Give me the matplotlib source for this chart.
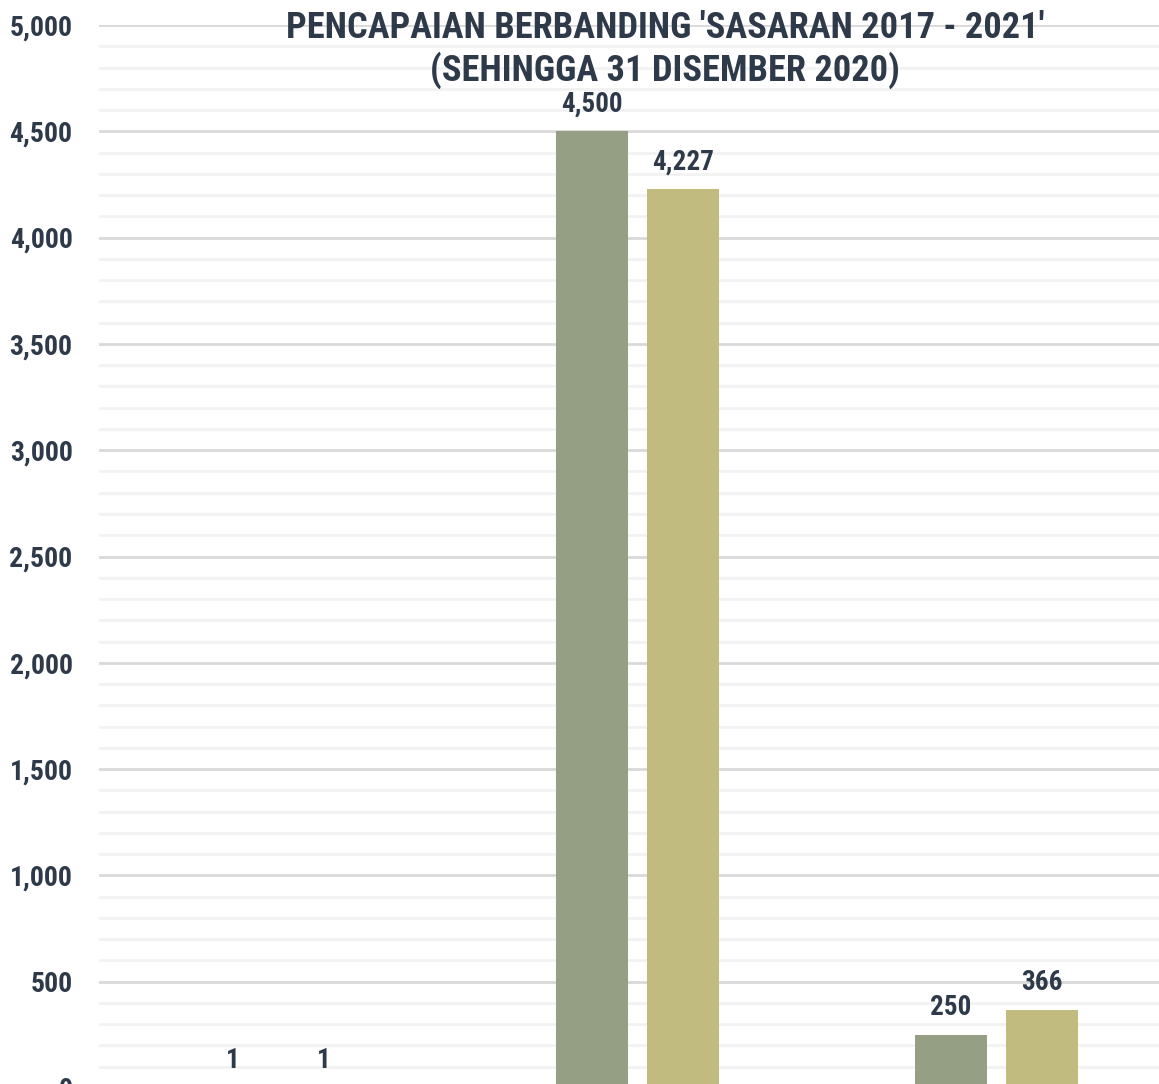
import matplotlib
matplotlib.use("Agg")
import matplotlib.pyplot as plt
import numpy as np
from matplotlib.ticker import MultipleLocator, FuncFormatter
from matplotlib import font_manager as fm

categories = ["A", "B", "C"]
sasaran = [1, 4500, 250]
pencapaian = [1, 4227, 366]
y_ticks = [0, 500, 1000, 1500, 2000, 2500, 3000, 3500, 4000, 4500, 5000]

available = {f.name for f in fm.fontManager.ttflist}
candidates = ["Roboto Condensed", "Arial Narrow", "Liberation Sans Narrow",
              "Archivo Narrow", "PT Sans Narrow", "Open Sans Condensed",
              "Encode Sans Condensed", "Barlow Semi Condensed", "Fira Sans Condensed"]
chosen = [c for c in candidates if c in available]
plt.rcParams['font.family'] = chosen[:1] + ['Roboto', 'DejaVu Sans']
plt.rcParams['font.weight'] = 'bold'

W, H = 1159, 1084
fig = plt.figure(figsize=(W/100, H/100), dpi=100)
left = 99 / W
right = 1176 / W
top = 1 - 25 / H
bottom = (H - 1088) / H
ax = fig.add_axes([left, bottom, right - left, top - bottom])

x = np.arange(len(categories))
bw = 0.2
off = 0.1275
c1 = "#949F84"
c2 = "#C1BB80"
txt = "#2E3A4A"

b1 = ax.bar(x - off, sasaran, width=bw, color=c1, zorder=3)
b2 = ax.bar(x + off, pencapaian, width=bw, color=c2, zorder=3)

for bars, vals in ((b1, sasaran), (b2, pencapaian)):
    for r, v in zip(bars, vals):
        ax.annotate(f"{v:,}", (r.get_x() + r.get_width()/2, r.get_height()),
                    xytext=(0, 10), textcoords="offset points", ha="center", va="bottom",
                    fontsize=19.5, fontweight="bold", color=txt)

ax.set_xlim(-0.5, 2.5)
ax.set_ylim(0, 5000)
ax.set_yticks(y_ticks)
ax.yaxis.set_major_formatter(FuncFormatter(lambda v, p: f"{int(v):,}"))
ax.yaxis.set_minor_locator(MultipleLocator(100))
ax.grid(which="major", axis="y", color="#D9D9D9", linewidth=2, zorder=0)
ax.grid(which="minor", axis="y", color="#F2F2F2", linewidth=2, zorder=0)
ax.set_axisbelow(True)
ax.tick_params(axis="y", which="both", length=0, pad=19, labelsize=20, labelcolor=txt)
ax.tick_params(axis="x", length=0, labelbottom=False)
for s in ax.spines.values():
    s.set_visible(False)

fig.text(665 / W, 1 - 10 / H, "PENCAPAIAN BERBANDING 'SASARAN 2017 - 2021'\n(SEHINGGA 31 DISEMBER 2020)",
         ha="center", va="top", fontsize=26.2, fontweight="bold", color=txt, linespacing=1.2)

fig.savefig("out.png", dpi=100)
